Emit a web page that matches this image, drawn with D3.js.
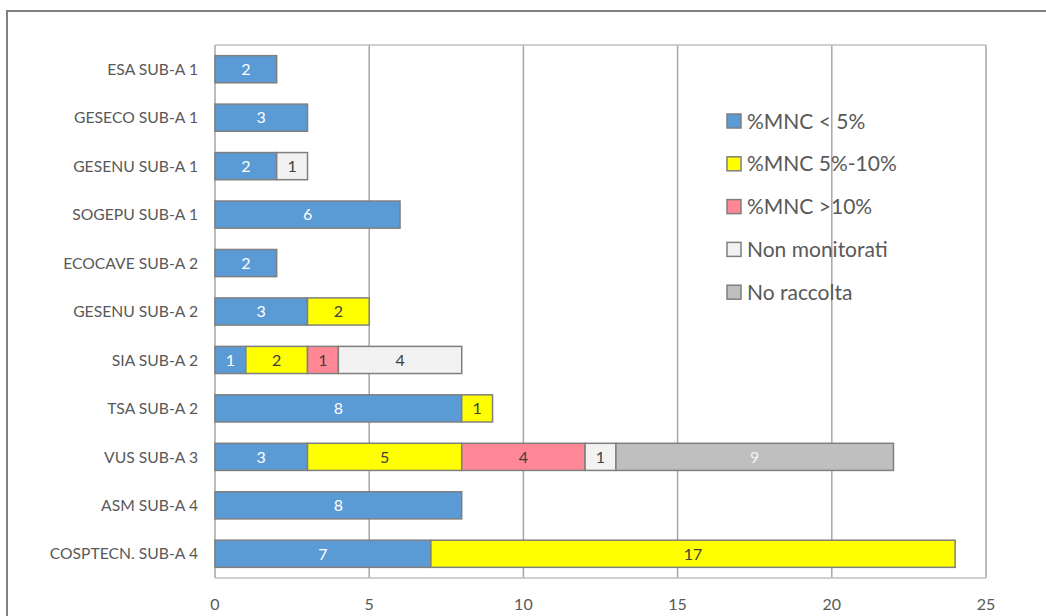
<!DOCTYPE html>
<html><head><meta charset="utf-8">
<script src="https://cdn.jsdelivr.net/npm/d3@7"></script>
<style>body{margin:0;background:#fff}svg{display:block}text{font-family:Lato,"Open Sans",sans-serif}</style>
</head><body><svg id="c" width="1046" height="616"></svg>
<script>
const categories=["ESA SUB-A 1","GESECO SUB-A 1","GESENU SUB-A 1","SOGEPU SUB-A 1","ECOCAVE SUB-A 2","GESENU SUB-A 2","SIA SUB-A 2","TSA SUB-A 2","VUS SUB-A 3","ASM SUB-A 4","COSPTECN. SUB-A 4"];
const seriesNames=["%MNC < 5%","%MNC 5%-10%","%MNC >10%","Non monitorati","No raccolta"];
const mncLow=[2,3,2,6,2,3,1,8,3,8,7];
const mncMid=[0,0,0,0,0,2,2,1,5,0,17];
const mncHigh=[0,0,0,0,0,0,1,0,4,0,0];
const nonMonitorati=[0,0,1,0,0,0,4,0,1,0,0];
const noRaccolta=[0,0,0,0,0,0,0,0,9,0,0];
const xTicks=[0,5,10,15,20,25];
const colors=["#5b9bd5","#ffff00","#ff8796","#f2f2f2","#bfbfbf"];
const labelColors=["#ffffff","#404040","#404040","#404040","#f2f2f2"];

const svg=d3.select("#c");
svg.append("rect").attr("x",7).attr("y",11).attr("width",1100).attr("height",700).attr("fill","none").attr("stroke","#808080").attr("stroke-width",2);
const L=215,R=986,T=45,B=578;
const x=d3.scaleLinear().domain([0,25]).range([L,R]);
const y=d3.scaleBand().domain(categories).range([T,B]).paddingInner(0.44).paddingOuter(0.22);
svg.append("g").selectAll("line").data(xTicks).join("line")
 .attr("x1",d=>x(d)).attr("x2",d=>x(d)).attr("y1",T).attr("y2",B).attr("stroke","#a6a6a6").attr("stroke-width",1.5);
svg.append("line").attr("x1",L).attr("x2",R).attr("y1",T).attr("y2",T).attr("stroke","#bfbfbf").attr("stroke-width",1.5);
svg.append("line").attr("x1",L).attr("x2",R).attr("y1",B).attr("y2",B).attr("stroke","#bfbfbf").attr("stroke-width",1.5);
const rows=categories.map((c,i)=>({cat:c,s0:mncLow[i],s1:mncMid[i],s2:mncHigh[i],s3:nonMonitorati[i],s4:noRaccolta[i]}));
const stack=d3.stack().keys(["s0","s1","s2","s3","s4"])(rows);
stack.forEach((layer,k)=>{
 const g=svg.append("g");
 const segs=layer.filter(d=>d[1]-d[0]>0);
 g.selectAll("rect").data(segs).join("rect")
  .attr("x",d=>x(d[0])).attr("y",d=>y(d.data.cat)).attr("width",d=>x(d[1])-x(d[0])).attr("height",y.bandwidth())
  .attr("fill",colors[k]).attr("stroke","#7f7f7f").attr("stroke-width",1.5);
 g.selectAll("text").data(segs).join("text")
  .attr("x",d=>(x(d[0])+x(d[1]))/2).attr("y",d=>y(d.data.cat)+y.bandwidth()/2).attr("dy","0.36em")
  .attr("text-anchor","middle").attr("font-size",16).attr("fill",labelColors[k]).text(d=>d[1]-d[0]);
});
svg.append("g").selectAll("text").data(categories).join("text")
 .attr("x",198).attr("y",d=>y(d)+y.bandwidth()/2).attr("dy","0.36em").attr("text-anchor","end")
 .attr("font-size",15.7).attr("fill","#595959").text(d=>d);
svg.append("g").selectAll("text").data(xTicks).join("text")
 .attr("x",d=>x(d)).attr("y",604).attr("dy","0.36em").attr("text-anchor","middle")
 .attr("font-size",16).attr("fill","#595959").text(d=>d);
const lg=svg.append("g").selectAll("g").data(seriesNames).join("g").attr("transform",(d,i)=>`translate(727,${121+i*42.8})`);
lg.append("rect").attr("x",0).attr("y",-7).attr("width",14).attr("height",14).attr("fill",(d,i)=>colors[i]).attr("stroke","#7f7f7f").attr("stroke-width",1.5);
lg.append("text").attr("x",20).attr("y",0).attr("dy","0.36em").attr("font-size",21).attr("fill","#595959").text(d=>d);
</script></body></html>
